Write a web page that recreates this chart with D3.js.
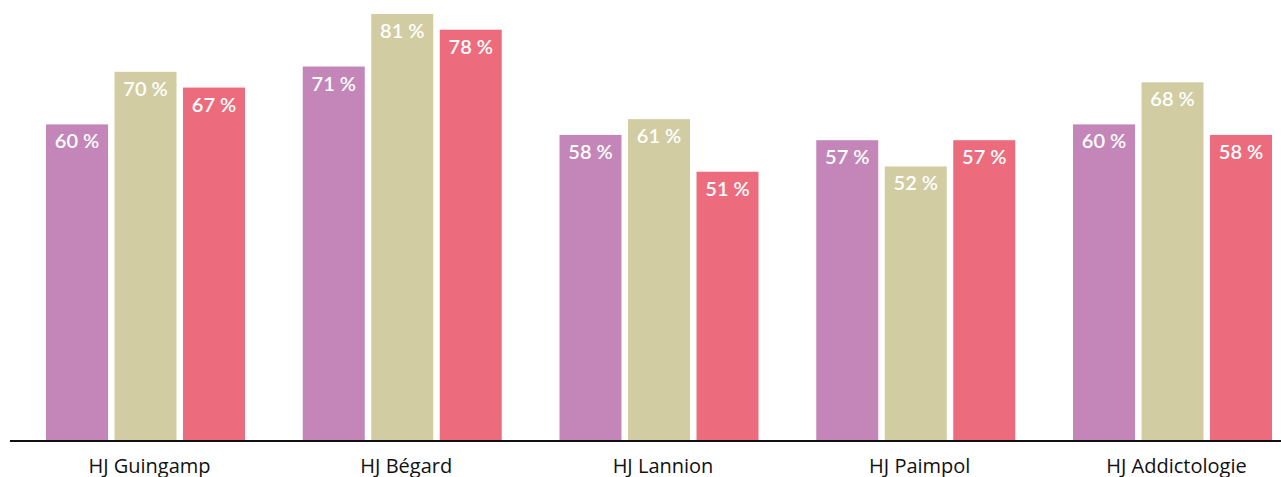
<!DOCTYPE html>
<html>
<head>
<meta charset="utf-8">
<script src="https://cdn.jsdelivr.net/npm/d3@7"></script>
<style>
  body { margin: 0; background: #fff; }
  svg text { font-family: Lato, "Open Sans", sans-serif; }
</style>
</head>
<body>
<div id="chart"></div>
<script>
var categories = ["HJ Guingamp", "HJ Bégard", "HJ Lannion", "HJ Paimpol", "HJ Addictologie"];
var series = ["s1", "s2", "s3"];
var colors = ["#c486b8", "#d1cca2", "#ec6c7e"];
var values_s1 = [60, 71, 58, 57, 60];
var values_s2 = [70, 81, 61, 52, 68];
var values_s3 = [67, 78, 51, 57, 58];

var width = 1281, height = 477;
var baseline = 440;

var svg = d3.select("#chart").append("svg")
    .attr("width", width)
    .attr("height", height);

var x0 = d3.scaleBand()
    .domain(categories)
    .range([46, 1272])
    .paddingInner(0.225)
    .paddingOuter(0);

var x1 = d3.scaleBand()
    .domain(series)
    .range([0, x0.bandwidth()])
    .paddingInner(0.095);

var y = d3.scaleLinear()
    .domain([0, 100])
    .range([baseline, baseline - 526]);

var color = d3.scaleOrdinal().domain(series).range(colors);

var data = categories.map(function(c, i){
  return { cat: c, vals: [
    { s: "s1", v: values_s1[i] },
    { s: "s2", v: values_s2[i] },
    { s: "s3", v: values_s3[i] }
  ]};
});

var groups = svg.selectAll("g.group")
    .data(data)
  .enter().append("g")
    .attr("class", "group")
    .attr("transform", function(d){ return "translate(" + x0(d.cat) + ",0)"; });

groups.selectAll("rect")
    .data(function(d){ return d.vals; })
  .enter().append("rect")
    .attr("x", function(d){ return x1(d.s); })
    .attr("y", function(d){ return y(d.v); })
    .attr("width", x1.bandwidth())
    .attr("height", function(d){ return baseline - y(d.v); })
    .style("fill", function(d){ return color(d.s); });

groups.selectAll("text.val")
    .data(function(d){ return d.vals; })
  .enter().append("text")
    .attr("class", "val")
    .attr("x", function(d){ return x1(d.s) + x1.bandwidth() / 2; })
    .attr("y", function(d){ return y(d.v) + 24; })
    .attr("text-anchor", "middle")
    .style("fill", "#fff")
    .style("font-size", "20px")
    .style("font-weight", "600")
    .text(function(d){ return d.v + " %"; });

// x axis
var xAxis = d3.axisBottom(x0).tickSize(0).tickPadding(0);
var ax = svg.append("g")
    .attr("class", "x axis")
    .attr("transform", "translate(4," + (baseline + 1) + ")")
    .call(xAxis);
ax.select(".domain").remove();
ax.selectAll("text")
    .attr("dy", null)
    .attr("y", 32)
    .style("font-family", "'Open Sans', sans-serif")
    .style("font-size", "20px")
    .style("fill", "#111");

svg.append("line")
    .attr("x1", 10).attr("x2", width)
    .attr("y1", baseline + 1).attr("y2", baseline + 1)
    .attr("stroke", "#111")
    .attr("stroke-width", 2);
</script>
</body>
</html>
